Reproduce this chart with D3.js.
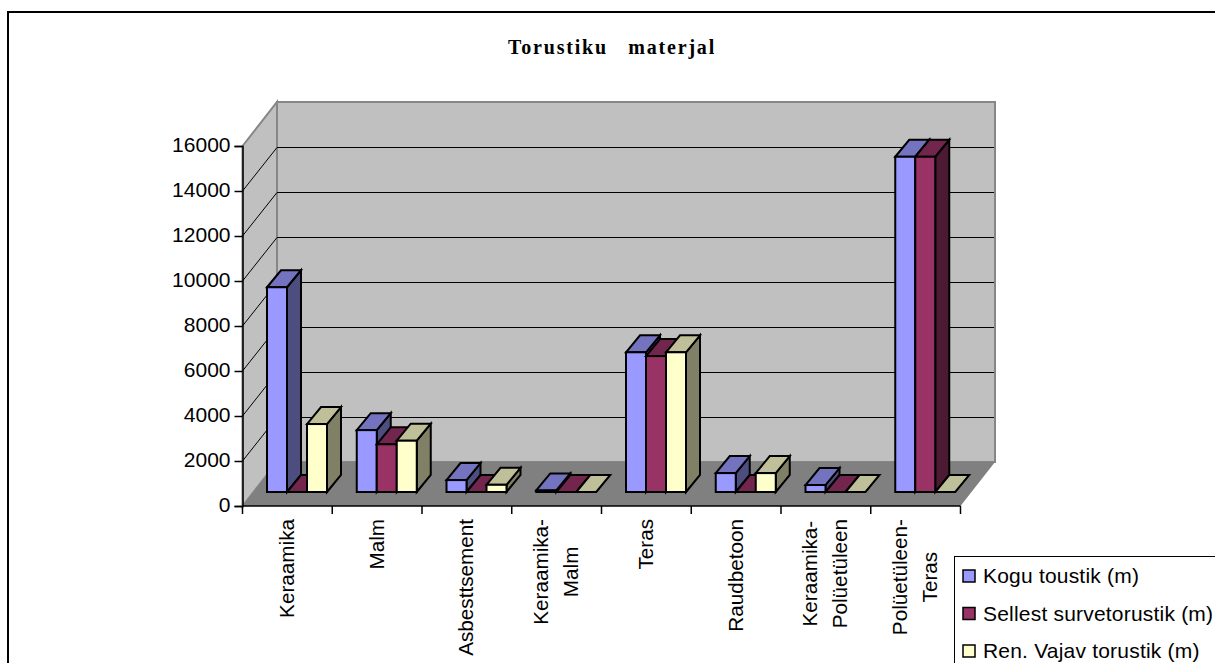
<!DOCTYPE html>
<html>
<head>
<meta charset="utf-8">
<script src="https://cdn.jsdelivr.net/npm/d3@7"></script>
<style>
  html, body { margin: 0; padding: 0; background: #fff; overflow: hidden; }
  svg { display: block; }
  text { font-family: "Liberation Sans", Arial, sans-serif; fill: #000; }
</style>
</head>
<body>
<svg id="chart" width="1215" height="663"></svg>
<script>
const categories = ['Keraamika', 'Malm', 'Asbesttsement', 'Keraamika-\nMalm', 'Teras', 'Raudbetoon', 'Keraamika-\nPolüetüleen', 'Polüetüleen-\nTeras'];
const kogu = [9100, 2750, 530, 70, 6210, 840, 310, 14900];
const sellest = [0, 2120, 0, 0, 6040, 0, 0, 14900];
const renVajav = [3020, 2280, 320, 0, 6210, 840, 0, 0];
const seriesNames = ['Kogu toustik (m)', 'Sellest survetorustik (m)', 'Ren. Vajav torustik (m)'];
const seriesValues = [kogu, sellest, renVajav];
const yTicks = [0, 2000, 4000, 6000, 8000, 10000, 12000, 14000, 16000];
const fronts = ['#9999ff', '#993366', '#ffffcc'];
const tops = ['#7373bf', '#73264d', '#bfbf99'];
const sides = ['#4d4d80', '#4d1a33', '#808066'];

const width = 1215;
const height = 663;
const plot = { left: 242.5, right: 960.5, top: 146, bottom: 506 };
// offset of the back wall from the front of the box
const wall = { dx: 34.5, dy: -44 };
// offset of the bars' front face from the front of the box, and bar depth
const barOffset = { dy: -14 };
const barDepth = { dx: 14, dy: -17 };

const svg = d3.select('#chart');

const x = d3.scaleBand().domain(categories).range([plot.left, plot.right]);
const y = d3.scaleLinear().domain([0, 16000]).range([plot.bottom, plot.top]);
const barX = d3.scaleBand().domain(d3.range(3)).range([24.5, 84.5]);

const poly = (pts) => pts.map((p) => p.join(',')).join(' ');

// outer frame, runs off the right and bottom of the page
svg.append('rect')
  .attr('x', 8).attr('y', 12)
  .attr('width', width + 20).attr('height', height + 20)
  .attr('fill', '#fff').attr('stroke', '#000').attr('stroke-width', 2);

svg.append('text')
  .attr('x', 612).attr('y', 54)
  .attr('text-anchor', 'middle')
  .style('font-family', '"Liberation Serif", "Times New Roman", serif')
  .style('font-weight', 'bold')
  .style('font-size', '20px')
  .style('letter-spacing', '1.8px')
  .style('white-space', 'pre')
  .text('Torustiku   materjal');

// back wall, side wall and floor
const box = svg.append('g').attr('class', 'box');
box.append('polygon')
  .attr('points', poly([
    [plot.left + wall.dx, y(16000) + wall.dy],
    [plot.right + wall.dx, y(16000) + wall.dy],
    [plot.right + wall.dx, y(0) + wall.dy],
    [plot.left + wall.dx, y(0) + wall.dy],
  ]))
  .attr('fill', '#c0c0c0').attr('stroke', '#868686').attr('stroke-width', 2);
box.append('polygon')
  .attr('points', poly([
    [plot.left, y(16000)],
    [plot.left + wall.dx, y(16000) + wall.dy],
    [plot.left + wall.dx, y(0) + wall.dy],
    [plot.left, y(0)],
  ]))
  .attr('fill', '#c0c0c0').attr('stroke', '#868686').attr('stroke-width', 2);
box.append('polygon')
  .attr('points', poly([
    [plot.left, y(0)],
    [plot.left + wall.dx, y(0) + wall.dy],
    [plot.right + wall.dx, y(0) + wall.dy],
    [plot.right, y(0)],
  ]))
  .attr('fill', '#808080');

// gridlines along side wall and back wall
const grid = svg.append('g').attr('stroke', '#000').attr('stroke-width', 1).attr('fill', 'none');
yTicks.filter((d) => d > 0 && d < 16000).forEach((d) => {
  const back = Math.round(y(d) + wall.dy) + 0.5;
  grid.append('path')
    .attr('d', `M${plot.left},${y(d)}L${plot.left + wall.dx},${back}H${plot.right + wall.dx - 1}`);
});

// bars, left to right so each one covers the side of its neighbour
const bars = svg.append('g').attr('stroke', '#000').attr('stroke-width', 2).attr('stroke-linejoin', 'miter');
categories.forEach((cat, i) => {
  seriesValues.forEach((vals, s) => {
    const x0 = x(cat) + barX(s);
    const x1 = x0 + barX.bandwidth();
    const yb = y(0) + barOffset.dy;
    const yt = y(vals[i]) + barOffset.dy;
    const { dx, dy } = barDepth;
    if (vals[i] > 0) {
      bars.append('polygon')
        .attr('points', poly([[x1, yb], [x1 + dx, yb + dy], [x1 + dx, yt + dy], [x1, yt]]))
        .attr('fill', sides[s]);
    }
    bars.append('polygon')
      .attr('points', poly([[x0, yt], [x0 + dx, yt + dy], [x1 + dx, yt + dy], [x1, yt]]))
      .attr('fill', tops[s]);
    if (vals[i] > 0) {
      bars.append('rect')
        .attr('x', x0).attr('y', yt)
        .attr('width', x1 - x0).attr('height', yb - yt)
        .attr('fill', fronts[s]);
    }
  });
});

// axes
const yAxis = d3.axisLeft(y).tickValues(yTicks).tickSize(8).tickPadding(4).tickFormat(d3.format('d'));
const yG = svg.append('g').attr('transform', `translate(${plot.left},0)`).call(yAxis);
yG.selectAll('text')
  .attr('dy', '0.27em')
  .style('font-size', '21px')
  .style('font-family', '"Liberation Sans", Arial, sans-serif');
yG.selectAll('line, path').attr('stroke', '#000').attr('stroke-width', 1.5);

const xG = svg.append('g').attr('stroke', '#000').attr('stroke-width', 1.5);
xG.append('line')
  .attr('x1', plot.left).attr('x2', plot.right)
  .attr('y1', y(0)).attr('y2', y(0));
[...categories.map((c) => x(c)), plot.right].forEach((px) => {
  xG.append('line')
    .attr('x1', px).attr('x2', px)
    .attr('y1', y(0)).attr('y2', y(0) + 8);
});

// rotated category labels; wrapped lines are centred on the longest one
const lineGap = 30;
categories.forEach((cat) => {
  const lines = cat.split('\n');
  const cx = x(cat) + x.bandwidth() / 2 - 3;
  const g = svg.append('g');
  const texts = lines.map((line) => g.append('text')
    .attr('text-anchor', 'middle')
    .style('font-size', '20.7px')
    .text(line));
  const longest = d3.max(texts, (t) => t.node().getComputedTextLength());
  texts.forEach((t, j) => {
    const tx = cx + (j - (lines.length - 1) / 2) * lineGap + 9.5;
    t.attr('transform', `translate(${tx},${519 + longest / 2}) rotate(-90)`);
  });
});

// legend, also cut off by the page edge
const legend = svg.append('g');
legend.append('rect')
  .attr('x', 954.5).attr('y', 556.5)
  .attr('width', 300).attr('height', 150)
  .attr('fill', '#fff').attr('stroke', '#000').attr('stroke-width', 1);
seriesNames.forEach((name, s) => {
  const ly = 576 + s * 37.5;
  legend.append('rect')
    .attr('x', 963).attr('y', ly - 6)
    .attr('width', 12).attr('height', 12)
    .attr('fill', fronts[s]).attr('stroke', '#000').attr('stroke-width', 1.5);
  legend.append('text')
    .attr('x', 983).attr('y', ly + 7)
    .style('font-size', '21px')
    .style('letter-spacing', '0.2px')
    .text(name);
});
</script>
</body>
</html>
